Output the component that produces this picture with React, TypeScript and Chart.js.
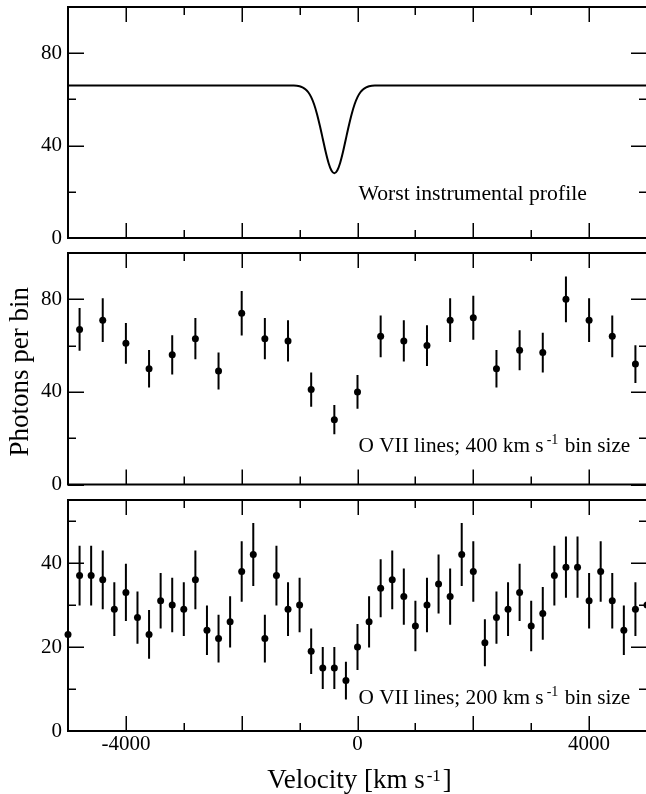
import React, { useEffect, useRef } from 'react';
import { Chart, registerables } from 'chart.js';

Chart.register(...registerables);

const FONT = "'Liberation Serif', 'Times New Roman', serif";

// ---------- Data ----------
// Top panel: worst instrumental profile
const profileVelocity = [
  -5000, -1100, -1000, -950, -900, -850, -800, -750, -700, -650, -600, -550, -500, -450,
  -400, -350, -300, -250, -200, -150, -100, -50, 0, 50, 100, 150, 200, 300, 5000,
];
const profileCounts = [
  66, 66, 65.7, 65.2, 64.4, 63.1, 61.0, 57.9, 53.7, 48.6, 43.0, 37.3, 32.5, 29.2,
  28, 29.2, 32.5, 37.3, 43.0, 48.6, 53.7, 57.9, 61.0, 63.1, 64.4, 65.2, 65.7, 66, 66,
];

// Middle panel: O VII lines, 400 km/s bins
const bin400Velocity = [
  -4800, -4400, -4000, -3600, -3200, -2800, -2400, -2000, -1600, -1200, -800, -400, 0,
  400, 800, 1200, 1600, 2000, 2400, 2800, 3200, 3600, 4000, 4400, 4800,
];
const bin400Counts = [
  67, 71, 61, 50, 56, 63, 49, 74, 63, 62, 41, 28, 40, 64, 62, 60, 71, 72, 50, 58, 57, 80, 71, 64, 52,
];
const bin400Errors = [
  9.2, 9.4, 8.8, 8.1, 8.5, 8.9, 8.0, 9.6, 8.9, 8.9, 7.4, 6.3, 7.3, 9.0, 8.9, 8.8, 9.4, 9.5, 8.1, 8.6,
  8.6, 9.9, 9.4, 9.0, 8.2,
];

// Bottom panel: O VII lines, 200 km/s bins
const bin200Velocity = [
  -5000, -4800, -4600, -4400, -4200, -4000, -3800, -3600, -3400, -3200, -3000, -2800, -2600,
  -2400, -2200, -2000, -1800, -1600, -1400, -1200, -1000, -800, -600, -400, -200, 0, 200, 400,
  600, 800, 1000, 1200, 1400, 1600, 1800, 2000, 2200, 2400, 2600, 2800, 3000, 3200, 3400, 3600,
  3800, 4000, 4200, 4400, 4600, 4800, 5000,
];
const bin200Counts = [
  23, 37, 37, 36, 29, 33, 27, 23, 31, 30, 29, 36, 24, 22, 26, 38, 42, 22, 37, 29, 30, 19, 15, 15,
  12, 20, 26, 34, 36, 32, 25, 30, 35, 32, 42, 38, 21, 27, 29, 33, 25, 28, 37, 39, 39, 31, 38, 31,
  24, 29, 30,
];
const bin200Errors = [
  5.8, 7.1, 7.1, 7.0, 6.4, 6.8, 6.2, 5.8, 6.6, 6.5, 6.4, 7.0, 5.9, 5.7, 6.1, 7.2, 7.5, 5.7, 7.1,
  6.4, 6.5, 5.4, 5.0, 5.0, 4.5, 5.5, 6.1, 6.9, 7.0, 6.7, 6.0, 6.5, 7.0, 6.7, 7.5, 7.2, 5.6, 6.2,
  6.4, 6.8, 6.0, 6.3, 7.1, 7.3, 7.3, 6.6, 7.2, 6.6, 5.9, 6.4, 6.5,
];

// Ticks
const xLabelTicks = [-4000, 0, 4000];
const xMajorTicks = [-4000, -2000, 0, 2000, 4000];
const xMinorTicks = [-3000, -1000, 1000, 3000];
const yLabelTicks100 = [0, 40, 80];
const yMinorTicks100 = [20, 60];
const yLabelTicks55 = [0, 20, 40];
const yMinorTicks55 = [10, 30, 50];

// ---------- helpers ----------
type Part = { t: string; size: number; rise: number; gap: number };

function richWidth(ctx: CanvasRenderingContext2D, parts: Part[]) {
  let w = 0;
  for (const p of parts) {
    ctx.font = `${p.size}px ${FONT}`;
    w += p.gap + ctx.measureText(p.t).width;
  }
  return w;
}

function drawRich(ctx: CanvasRenderingContext2D, parts: Part[], x: number, y: number) {
  let cx = x;
  ctx.textBaseline = 'alphabetic';
  ctx.textAlign = 'left';
  ctx.fillStyle = '#000';
  for (const p of parts) {
    ctx.font = `${p.size}px ${FONT}`;
    cx += p.gap;
    ctx.fillText(p.t, cx, y - p.rise);
    cx += ctx.measureText(p.t).width;
  }
}

function errorSegments(xs: number[], ys: number[], es: number[]) {
  const pts: { x: number; y: number | null }[] = [];
  xs.forEach((x, i) => {
    pts.push({ x, y: ys[i] - es[i] }, { x, y: ys[i] + es[i] }, { x, y: null });
  });
  return pts;
}

function toPoints(xs: number[], ys: number[]) {
  return xs.map((x, i) => ({ x, y: ys[i] }));
}

type PanelCfg = {
  top: number;
  height: number;
  padTop: number;
  padBottom: number;
  xAxisHeight: number;
  showX: boolean;
  yMax: number;
  yLabels: number[];
  yMinor: number[];
  yMajor: number[];
  datasets: any[];
  annotation: Part[];
  annotationOffset: number;
  yTitle?: boolean;
  xTitle?: boolean;
};

function Panel({ cfg }: { cfg: PanelCfg }) {
  const ref = useRef<HTMLCanvasElement | null>(null);
  useEffect(() => {
    if (!ref.current) return;
    const framePlugin = {
      id: 'frameTicks',
      afterDraw(chart: any) {
        const { ctx, chartArea: a, scales } = chart;
        const xs = scales.x;
        const ys = scales.y;
        ctx.save();
        ctx.strokeStyle = '#000';
        ctx.lineWidth = 2;
        ctx.strokeRect(a.left, a.top, a.right - a.left, a.bottom - a.top);
        ctx.lineWidth = 1.5;
        ctx.beginPath();
        const xt = (vals: number[], len: number) => {
          for (const v of vals) {
            const px = Math.round(xs.getPixelForValue(v)) + 0.25;
            ctx.moveTo(px, a.bottom);
            ctx.lineTo(px, a.bottom - len);
            ctx.moveTo(px, a.top);
            ctx.lineTo(px, a.top + len);
          }
        };
        const yt = (vals: number[], len: number) => {
          for (const v of vals) {
            const py = Math.round(ys.getPixelForValue(v)) + 0.25;
            ctx.moveTo(a.left, py);
            ctx.lineTo(a.left + len, py);
            ctx.moveTo(a.right, py);
            ctx.lineTo(a.right - len, py);
          }
        };
        xt(xMajorTicks, 15);
        xt(xMinorTicks, 8);
        yt(cfg.yMajor, 16);
        yt(cfg.yMinor, 8);
        ctx.stroke();

        // annotation
        const ax = xs.getPixelForValue(0) + 1;
        drawRich(ctx, cfg.annotation, ax, a.bottom - cfg.annotationOffset);

        if (cfg.yTitle) {
          ctx.save();
          ctx.translate(28, (a.top + a.bottom) / 2 + 3);
          ctx.rotate(-Math.PI / 2);
          ctx.font = `27px ${FONT}`;
          ctx.textAlign = 'center';
          ctx.textBaseline = 'alphabetic';
          ctx.fillStyle = '#000';
          ctx.fillText('Photons per bin', 0, 0);
          ctx.restore();
        }
        if (cfg.xTitle) {
          const parts: Part[] = [
            { t: 'Velocity [km s', size: 27, rise: 0, gap: 0 },
            { t: '-1', size: 17, rise: 7, gap: 2 },
            { t: ']', size: 27, rise: 0, gap: 2 },
          ];
          const w = richWidth(ctx, parts);
          const cx = (a.left + a.right) / 2 + 2;
          drawRich(ctx, parts, cx - w / 2, a.bottom + 57);
        }
        ctx.restore();
      },
    };

    const chart = new Chart(ref.current, {
      type: 'line',
      data: { datasets: cfg.datasets },
      options: {
        animation: false,
        responsive: false,
        events: [],
        layout: { padding: { left: 0, right: 13, top: cfg.padTop, bottom: cfg.padBottom } },
        plugins: {
          legend: { display: false },
          tooltip: { enabled: false },
          title: { display: false },
        },
        scales: {
          x: {
            type: 'linear',
            min: -5000,
            max: 5000,
            display: cfg.showX,
            grid: { display: false, drawTicks: false },
            border: { display: false },
            ticks: {
              font: { family: FONT, size: 21 },
              color: '#000',
              padding: 1,
              maxRotation: 0,
              autoSkip: false,
              callback: (v: any) => String(v),
            },
            afterBuildTicks: (s: any) => {
              s.ticks = xLabelTicks.map((v) => ({ value: v }));
            },
            afterFit: (s: any) => {
              s.height = cfg.xAxisHeight;
              s.paddingLeft = 0;
              s.paddingRight = 0;
              s.paddingTop = 0;
              s.paddingBottom = 0;
            },
          },
          y: {
            type: 'linear',
            min: 0,
            max: cfg.yMax,
            grid: { display: false, drawTicks: false },
            border: { display: false },
            ticks: {
              font: { family: FONT, size: 21 },
              color: '#000',
              padding: 6,
              autoSkip: false,
              callback: (v: any) => String(v),
            },
            afterBuildTicks: (s: any) => {
              s.ticks = cfg.yLabels.map((v) => ({ value: v }));
            },
            afterFit: (s: any) => {
              s.width = 68;
              s.paddingLeft = 0;
              s.paddingRight = 0;
              s.paddingTop = 0;
              s.paddingBottom = 0;
            },
          },
        },
      } as any,
      plugins: [framePlugin],
    });
    return () => chart.destroy();
  }, [cfg]);

  return (
    <canvas
      ref={ref}
      width={660}
      height={cfg.height}
      style={{ position: 'absolute', left: 0, top: cfg.top, width: 660, height: cfg.height, display: 'block' }}
    />
  );
}

const pointStyle = {
  showLine: false,
  pointRadius: 3.5,
  pointBackgroundColor: '#000',
  pointBorderWidth: 0,
  borderColor: '#000',
  clip: false,
};
const barStyle = {
  showLine: true,
  spanGaps: false,
  pointRadius: 0,
  borderWidth: 2,
  borderColor: '#000',
  clip: false,
};

const panels: PanelCfg[] = [
  {
    top: 0,
    height: 252,
    padTop: 7,
    padBottom: 14,
    xAxisHeight: 0,
    showX: false,
    yMax: 100,
    yLabels: yLabelTicks100,
    yMajor: yLabelTicks100,
    yMinor: yMinorTicks100,
    datasets: [
      {
        data: toPoints(profileVelocity, profileCounts),
        showLine: true,
        pointRadius: 0,
        borderWidth: 2,
        borderColor: '#000',
        cubicInterpolationMode: 'monotone',
      },
    ],
    annotation: [{ t: 'Worst instrumental profile', size: 21.7, rise: 0, gap: 0 }],
    annotationOffset: 38,
  },
  {
    top: 244,
    height: 254,
    padTop: 9,
    padBottom: 13.5,
    xAxisHeight: 0,
    showX: false,
    yMax: 100,
    yLabels: yLabelTicks100,
    yMajor: yLabelTicks100,
    yMinor: yMinorTicks100,
    datasets: [
      { data: errorSegments(bin400Velocity, bin400Counts, bin400Errors), ...barStyle },
      { data: toPoints(bin400Velocity, bin400Counts), ...pointStyle },
    ],
    annotation: [
      { t: 'O VII lines; 400 km s', size: 21.3, rise: 0, gap: 0 },
      { t: '-1', size: 14, rise: 8, gap: 3 },
      { t: ' bin size', size: 21.3, rise: 0, gap: 1 },
    ],
    annotationOffset: 32.5,
    yTitle: true,
  },
  {
    top: 490,
    height: 304,
    padTop: 10,
    padBottom: 0,
    xAxisHeight: 63,
    showX: true,
    yMax: 55,
    yLabels: yLabelTicks55,
    yMajor: yLabelTicks55,
    yMinor: yMinorTicks55,
    datasets: [
      { data: errorSegments(bin200Velocity, bin200Counts, bin200Errors), ...barStyle },
      { data: toPoints(bin200Velocity, bin200Counts), ...pointStyle },
    ],
    annotation: [
      { t: 'O VII lines; 200 km s', size: 21.3, rise: 0, gap: 0 },
      { t: '-1', size: 14, rise: 8, gap: 3 },
      { t: ' bin size', size: 21.3, rise: 0, gap: 1 },
    ],
    annotationOffset: 27,
    xTitle: true,
  },
];

export default function App() {
  return (
    <div
      style={{
        position: 'fixed',
        left: 0,
        top: 0,
        width: 646,
        height: 794,
        overflow: 'hidden',
        background: '#fff',
      }}
    >
      {panels.map((p, i) => (
        <Panel key={i} cfg={p} />
      ))}
    </div>
  );
}
